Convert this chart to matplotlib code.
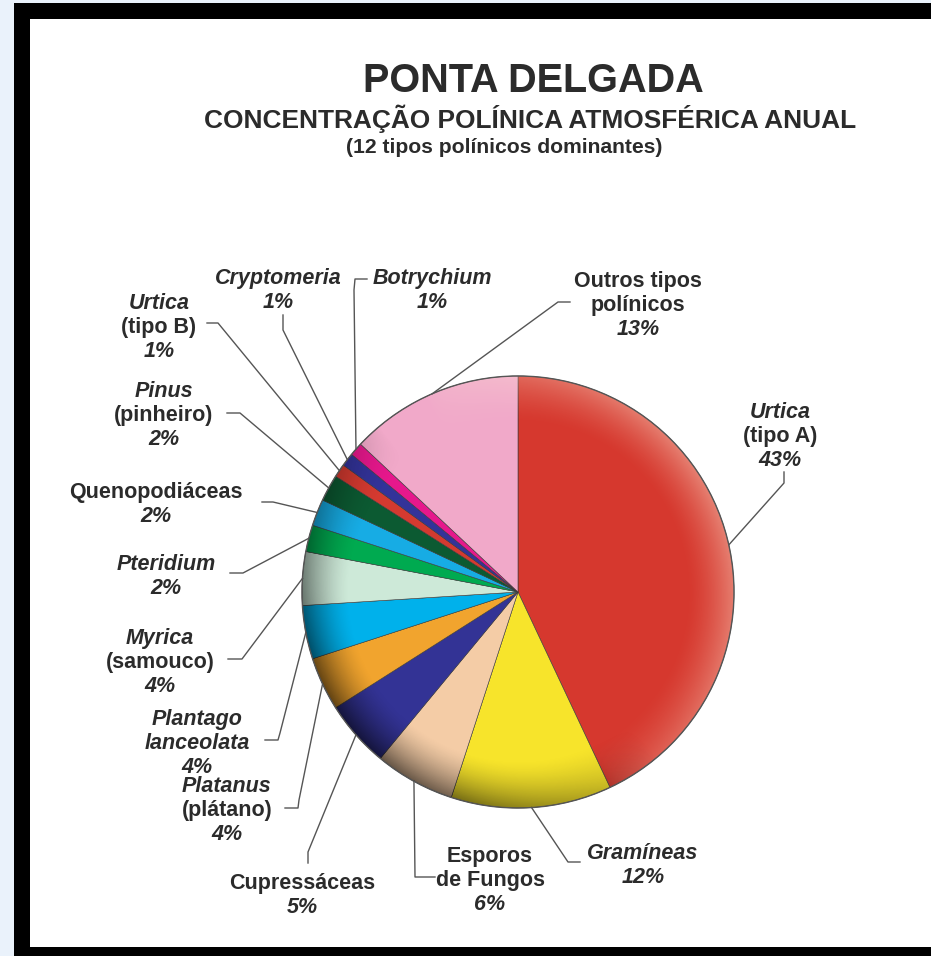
import numpy as np
import matplotlib as mpl
mpl.use('Agg')
from matplotlib import pyplot as plt
from matplotlib.patches import Rectangle, Circle

W, H = 931, 956

categories = ['Urtica (tipo A)', 'Gramíneas', 'Esporos de Fungos', 'Cupressáceas',
              'Platanus (plátano)', 'Plantago lanceolata', 'Myrica (samouco)', 'Pteridium',
              'Quenopodiáceas', 'Pinus (pinheiro)', 'Urtica (tipo B)', 'Cryptomeria',
              'Botrychium', 'Outros tipos polínicos']
values = [43, 12, 6, 5, 4, 4, 4, 2, 2, 2, 1, 1, 1, 13]
colors = ['#d6382e', '#f7e42b', '#f4cca6', '#333395', '#f1a42e', '#00b1eb', '#cde9d8',
          '#00aa50', '#17ace4', '#0c5a32', '#d43a30', '#333399', '#e6188c', '#f1a9c9']

# label text lines: (text, italic); the percentage line is added from values
label_lines = [
    [('Urtica', True), ('(tipo A)', False)],
    [('Gramíneas', True)],
    [('Esporos', False), ('de Fungos', False)],
    [('Cupressáceas', False)],
    [('Platanus', True), ('(plátano)', False)],
    [('Plantago', True), ('lanceolata', True)],
    [('Myrica', True), ('(samouco)', False)],
    [('Pteridium', True)],
    [('Quenopodiáceas', False)],
    [('Pinus', True), ('(pinheiro)', False)],
    [('Urtica', True), ('(tipo B)', False)],
    [('Cryptomeria', True)],
    [('Botrychium', True)],
    [('Outros tipos', False), ('polínicos', False)],
]

# layout in pixels from the top-left corner
cx, cy, R = 518, 592, 216
label_xy = [(780, 411), (643, 852), (490, 855), (302, 882), (227, 785), (197, 718),
            (160, 637), (166, 563), (156, 491), (164, 390), (159, 302), (278, 277),
            (432, 277), (638, 280)]
leader_pts = [
    [(784, 472), (784, 483)],
    [(580, 862), (568, 862)],
    [(435, 877), (415, 877)],
    [(308, 863), (308, 852)],
    [(285, 808), (298, 808), (299, 800)],
    [(265, 740), (278, 740), (280, 733)],
    [(228, 659), (242, 659)],
    [(230, 573), (243, 573)],
    [(262, 502), (273, 502)],
    [(227, 413), (240, 413)],
    [(207, 323), (218, 323)],
    [(283, 315), (283, 330)],
    [(367, 279), (355, 279), (354, 290)],
    [(570, 302), (558, 302)],
]
line_gap = 24
text_color = '#2b2b2b'
font = 'Liberation Sans'


def py(y):
  return H - y


fig = plt.figure(figsize=(W / 100, H / 100), dpi=100, facecolor='#eaf2fb')
ax = fig.add_axes([0, 0, 1, 1])
ax.set_xlim(0, W)
ax.set_ylim(0, H)
ax.axis('off')

# frame
ax.add_patch(Rectangle((14, 0), W - 14, py(3), facecolor='black', edgecolor='none', zorder=0))
ax.add_patch(Rectangle((30, py(947)), W - 30, 947 - 19, facecolor='white', edgecolor='none', zorder=0))

# titles
ax.text(533, py(91.5), 'PONTA DELGADA', ha='center', va='baseline', fontsize=28.5,
        fontweight='bold', family=font, color=text_color)
ax.text(530, py(128), 'CONCENTRAÇÃO POLÍNICA ATMOSFÉRICA ANUAL', ha='center', va='baseline',
        fontsize=18.9, fontweight='bold', family=font, color=text_color)
ax.text(504, py(153), '(12 tipos polínicos dominantes)', ha='center', va='baseline',
        fontsize=15.2, fontweight='bold', family=font, color=text_color)

# pie
wedges, _ = ax.pie(values, colors=colors, startangle=90, counterclock=False,
                   center=(cx, py(cy)), radius=R, frame=True,
                   wedgeprops=dict(edgecolor='#3a3a3a', linewidth=0.4))
ax.set_xlim(0, W)
ax.set_ylim(0, H)
ax.set_aspect('equal')
ax.axis('off')

# 3d-like shading on the rim
n = 500
gx, gy = np.meshgrid(np.linspace(-1, 1, n), np.linspace(-1, 1, n))
rho = np.hypot(gx, gy)
phi = np.arctan2(gy, gx)
rim = np.clip((rho - 0.78) / 0.22, 0, 1) ** 1.5
shadow = 0.6 * rim * np.clip(np.cos(phi - np.radians(-140)), 0, 1) ** 0.8
light = 0.4 * rim * np.clip(np.cos(phi - np.radians(25)), 0, 1) ** 0.5
shade = np.zeros((n, n, 4))
shade[..., 3] = shadow
glow = np.ones((n, n, 4))
glow[..., :3] = [1.0, 0.93, 0.85]
glow[..., 3] = light
clip = Circle((cx, py(cy)), R, transform=ax.transData)
ext = [cx - R, cx + R, py(cy) - R, py(cy) + R]
for img in (shade, glow):
  im = ax.imshow(img, extent=ext, origin='lower', zorder=3, interpolation='bilinear')
  im.set_clip_path(clip)
ax.add_patch(Circle((cx, py(cy)), R, facecolor='none', edgecolor='#555555', linewidth=1.0, zorder=4))
ax.set_xlim(0, W)
ax.set_ylim(0, H)

# labels and leader lines
for i, w in enumerate(wedges):
  mid = np.radians((w.theta1 + w.theta2) / 2)
  end = (cx + R * np.cos(mid), py(cy) + R * np.sin(mid))
  xs = [p[0] for p in leader_pts[i]] + [end[0]]
  ys = [py(p[1]) for p in leader_pts[i]] + [end[1]]
  ax.plot(xs, ys, color='#555555', linewidth=1.0, zorder=2)

  lines = label_lines[i] + [('{0}%'.format(values[i]), True)]
  x0, y0 = label_xy[i]
  for k, (txt, it) in enumerate(lines):
    ax.text(x0, py(y0 + 7 + k * line_gap), txt, ha='center', va='baseline', fontsize=15.5,
            fontweight='bold', style='italic' if it else 'normal', family=font,
            color=text_color, zorder=5)

fig.savefig('out.png', dpi=100, facecolor=fig.get_facecolor())
